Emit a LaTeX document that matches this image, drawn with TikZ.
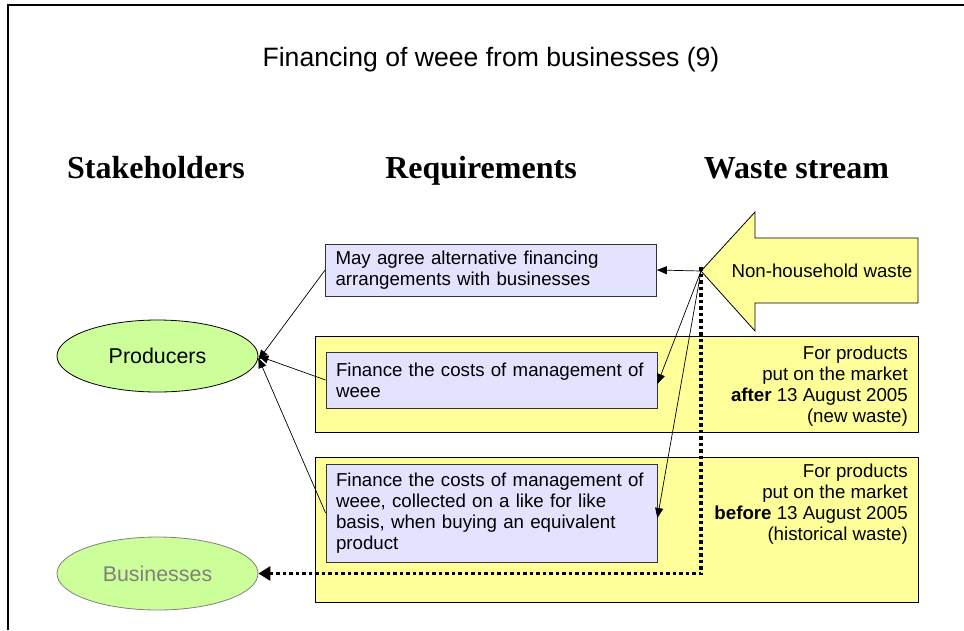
\documentclass[tikz,border=0pt]{standalone}
\usepackage{fontspec}
\setmainfont{Liberation Sans}
\newfontfamily\timesfont{Liberation Serif}
\usetikzlibrary{arrows.meta,shapes.geometric}
\definecolor{ylw}{HTML}{FFFF99}
\definecolor{lav}{HTML}{E3E3FF}
\definecolor{grn}{HTML}{CCFF99}
\begin{document}
\begin{tikzpicture}[x=1pt,y=-1pt,
  body/.style={font=\fontsize{18.7}{21}\selectfont},
  header/.style={font=\timesfont\bfseries\fontsize{32}{36}\selectfont, anchor=base},
  yellowbox/.style={draw=black, fill=ylw, line width=0.8pt, inner sep=0pt},
  reqbox/.style={draw=black!80, fill=lav, line width=0.8pt, body, align=left,
     text width=311pt, inner xsep=10pt, inner ysep=0pt, minimum width=331pt},
  actor/.style={ellipse, draw=black, fill=grn, line width=0.8pt, inner sep=0pt,
     minimum width=201pt, minimum height=72pt, font=\fontsize{21.4}{24}\selectfont},
  link/.style={line width=0.7pt, -{Triangle[length=10pt,width=8pt]}},
  yeltext/.style={body, align=right, anchor=north east, inner sep=0pt}
]
\useasboundingbox (0,0) rectangle (964,630);
% frame
\draw[line width=2.5pt] (8,630) -- (8,5) -- (964,5);

% title and headers
\node[body, font=\fontsize{26.6}{30}\selectfont, anchor=base] (title) at (491,66) {Financing of weee from businesses (9)};
\node[header] (hstake) at (156,178) {Stakeholders};
\node[header] (hreq) at (481,178) {Requirements};
\node[header] (hwaste) at (796.5,178) {Waste stream};

% yellow period boxes
\node[yellowbox, minimum width=603pt, minimum height=96pt] (yafter) at (616.5,384) {};
\node[yellowbox, minimum width=603pt, minimum height=145pt] (ybefore) at (616.5,529.5) {};
\node[yeltext] (tafter) at (908,346) {For products\\put on the market\\\textbf{after} 13 August 2005\\(new waste)};
\node[yeltext] (tbefore) at (908,464) {For products\\put on the market\\\textbf{before} 13 August 2005\\(historical waste)};

% big arrow (waste stream)
\draw[fill=ylw, line width=0.8pt] (701,271) -- (755,212) -- (755,238) -- (918,238) -- (918,303) -- (755,303) -- (755,331) -- cycle;
\coordinate (hub) at (701,271);
\node[body, anchor=center] (nhw) at (822,271) {Non-household waste};

% requirement boxes
\node[reqbox, minimum height=52pt] (r1) at (491,270) {May agree alternative financing\\arrangements with businesses};
\node[reqbox, minimum height=56pt] (r2) at (491.5,380) {Finance the costs of management of\\weee};
\node[reqbox, minimum height=98pt] (r3) at (491.5,513) {Finance the costs of management of\\weee, collected on a like for like\\basis, when buying an equivalent\\product};

% stakeholders
\node[actor] (prod) at (157.5,356) {Producers};
\node[actor, draw=black!50, text=black!50, minimum height=73pt] (bus) at (157.5,573.5) {Businesses};

% connectors
\draw[link] (hub) -- (r1.east);
\draw[link] (hub) -- ([yshift=-4pt]r2.east);
\draw[link] (hub) -- ([yshift=-5pt]r3.east);
\draw[link] (r1.west) -- ([yshift=-4pt]prod.east);
\draw[link] (r2.west) -- (prod.east);
\draw[link] (r3.west) -- ([yshift=-2pt]prod.east);
\draw[line width=3.5pt, dash pattern=on 3.5pt off 3pt, -{Triangle[length=12pt,width=14pt]}]
  ([yshift=4pt]hub) -- (hub |- bus.east) -- (bus.east);
\end{tikzpicture}
\end{document}
